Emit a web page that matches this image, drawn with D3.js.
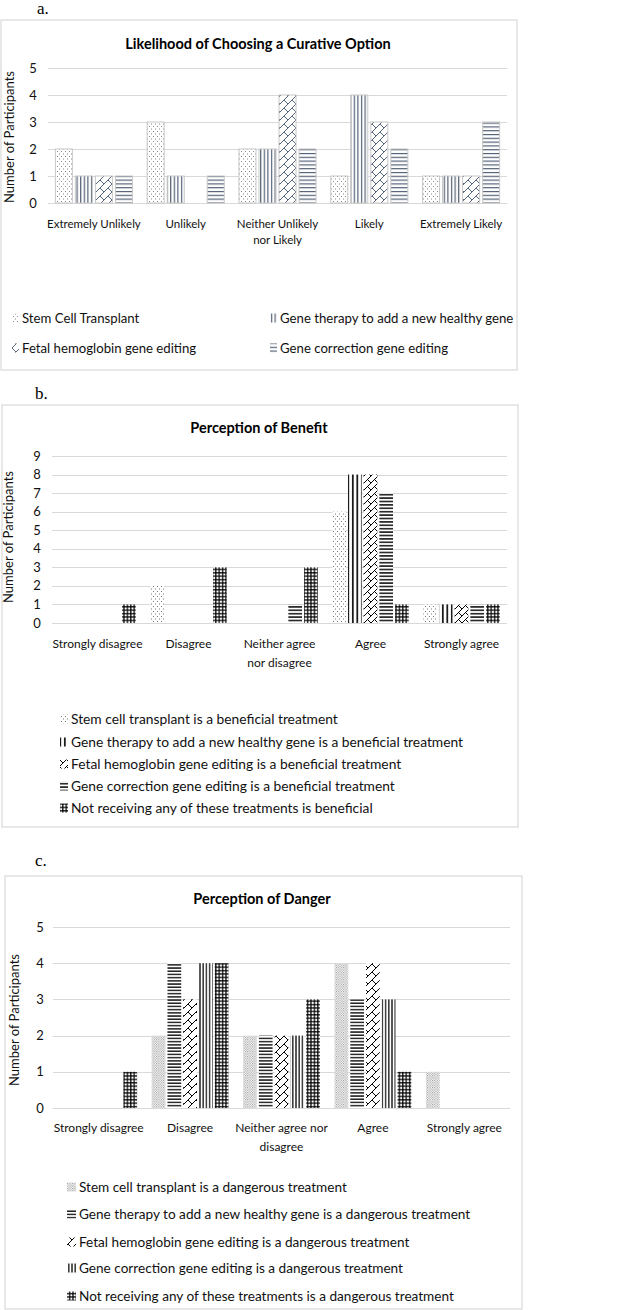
<!DOCTYPE html>
<html><head><meta charset="utf-8">
<script src="https://cdn.jsdelivr.net/npm/d3@7"></script>
<style>
html,body{margin:0;padding:0;background:#fff;}
svg{display:block;}
</style></head>
<body>
<svg id="chart" width="620" height="1310"></svg>
<script>
// ---------- Panel a data ----------
const catsA = ["Extremely Unlikely","Unlikely","Neither Unlikely nor Likely","Likely","Extremely Likely"];
const tickLinesA = [["Extremely Unlikely"],["Unlikely"],["Neither Unlikely","nor Likely"],["Likely"],["Extremely Likely"]];
const seriesNamesA = ["Stem Cell Transplant","Gene therapy to add a new healthy gene","Fetal hemoglobin gene editing","Gene correction gene editing"];
const stemA   = [2,3,2,1,1];
const geneThA = [1,1,2,4,1];
const fetalA  = [1,0,4,3,1];
const corrA   = [1,1,2,2,3];
const yTicksA = [0,1,2,3,4,5];

// ---------- Panel b data ----------
const catsB = ["Strongly disagree","Disagree","Neither agree nor disagree","Agree","Strongly agree"];
const tickLinesB = [["Strongly disagree"],["Disagree"],["Neither agree","nor disagree"],["Agree"],["Strongly agree"]];
const seriesNamesB = ["Stem cell transplant is a beneficial treatment","Gene therapy to add a new healthy gene is a beneficial treatment","Fetal hemoglobin gene editing is a beneficial treatment","Gene correction gene editing is a beneficial treatment","Not receiving any of these treatments is beneficial"];
const stemB   = [0,2,0,6,1];
const geneThB = [0,0,0,8,1];
const fetalB  = [0,0,0,8,1];
const corrB   = [0,0,1,7,1];
const noneB   = [1,3,3,1,1];
const yTicksB = [0,1,2,3,4,5,6,7,8,9];

// ---------- Panel c data ----------
const catsC = ["Strongly disagree","Disagree","Neither agree nor disagree","Agree","Strongly agree"];
const tickLinesC = [["Strongly disagree"],["Disagree"],["Neither agree nor","disagree"],["Agree"],["Strongly agree"]];
const seriesNamesC = ["Stem cell transplant is a dangerous treatment","Gene therapy to add a new healthy gene is a dangerous treatment","Fetal hemoglobin gene editing is a dangerous treatment","Gene correction gene editing is a dangerous treatment","Not receiving any of these treatments is a dangerous treatment"];
const stemC   = [0,2,2,4,1];
const geneThC = [0,4,2,3,0];
const fetalC  = [0,3,2,4,0];
const corrC   = [0,4,2,3,0];
const noneC   = [1,4,3,1,0];
const yTicksC = [0,1,2,3,4,5];

const FONT = "Lato, 'Open Sans', sans-serif";
const svg = d3.select("#chart");
const defs = svg.append("defs");

// ---------- patterns ----------
function pat(id, w, h, draw){
  const p = defs.append("pattern").attr("id", id).attr("patternUnits","userSpaceOnUse")
    .attr("width", w).attr("height", h);
  p.append("rect").attr("width", w).attr("height", h).attr("fill", "#fff");
  draw(p);
}
// panel a (slate)
const SL = "#44546a";
pat("a-dots", 4, 5, p => { p.append("rect").attr("x",1).attr("y",1).attr("width",1).attr("height",1).attr("fill","#8a8a8a");
                           p.append("rect").attr("x",3).attr("y",3.5).attr("width",1).attr("height",1).attr("fill","#8a8a8a"); });
pat("a-vl", 3.6, 4, p => p.append("rect").attr("x",1).attr("width",1.1).attr("height",4).attr("fill",SL));
pat("a-brick", 8, 8, p => p.append("path").attr("d","M0,8 L8,0 M4,4 L8,8 M-1,1 L1,-1 M7,9 L9,7").attr("stroke",SL).attr("stroke-width",0.9).attr("fill","none"));
pat("a-hl", 4, 3.8, p => p.append("rect").attr("y",1).attr("width",4).attr("height",1.1).attr("fill",SL));
// panel b (black)
pat("b-dots", 4, 5, p => { p.append("rect").attr("x",1).attr("y",1).attr("width",1).attr("height",1).attr("fill","#777");
                           p.append("rect").attr("x",3).attr("y",3.5).attr("width",1).attr("height",1).attr("fill","#777"); });
pat("b-vl", 4.5, 4, p => p.append("rect").attr("x",1).attr("width",1.6).attr("height",4).attr("fill","#000"));
pat("b-brick", 7, 7, p => p.append("path").attr("d","M0,7 L7,0 M3.5,3.5 L7,7 M-1,1 L1,-1 M6,8 L8,6").attr("stroke","#000").attr("stroke-width",1).attr("fill","none"));
pat("b-hl", 4, 3.4, p => p.append("rect").attr("y",1).attr("width",4).attr("height",1.4).attr("fill","#000"));
pat("b-grid", 3.4, 3.4, p => { p.append("rect").attr("x",1).attr("width",1.2).attr("height",3.4).attr("fill","#000");
                               p.append("rect").attr("y",1).attr("width",3.4).attr("height",1.2).attr("fill","#000"); });
// panel c (black)
pat("c-dots", 2.4, 2.4, p => { p.append("rect").attr("x",0).attr("y",0).attr("width",1).attr("height",1).attr("fill","#8c8c8c");
                               p.append("rect").attr("x",1.2).attr("y",1.2).attr("width",1).attr("height",1).attr("fill","#8c8c8c"); });
pat("c-hl", 4, 3.2, p => p.append("rect").attr("y",1).attr("width",4).attr("height",1.3).attr("fill","#000"));
pat("c-brick", 8, 8, p => p.append("path").attr("d","M0,8 L8,0 M4,4 L8,8 M-1,1 L1,-1 M7,9 L9,7").attr("stroke","#000").attr("stroke-width",1).attr("fill","none"));
pat("c-vl", 3.2, 4, p => p.append("rect").attr("x",1).attr("width",1.2).attr("height",4).attr("fill","#000"));
pat("c-grid", 3.4, 3.4, p => { p.append("rect").attr("x",1).attr("width",1.2).attr("height",3.4).attr("fill","#000");
                               p.append("rect").attr("y",1).attr("width",3.4).attr("height",1.2).attr("fill","#000"); });

// ---------- panel drawer ----------
function drawPanel(cfg){
  const g = svg.append("g");
  g.append("rect").attr("x",cfg.box[0]).attr("y",cfg.box[1]).attr("width",cfg.box[2]).attr("height",cfg.box[3])
    .attr("fill","#fff").attr("stroke","#d9d9d9").attr("stroke-width",1.2);
  g.append("text").attr("x",cfg.letter[1]).attr("y",cfg.letter[2]).text(cfg.letter[0])
    .attr("font-family","'Liberation Serif', 'Times New Roman', serif").attr("font-size",17).attr("fill","#000");
  g.append("text").attr("x",cfg.title[1]).attr("y",cfg.title[2]).attr("text-anchor","middle").text(cfg.title[0])
    .attr("font-family",FONT).attr("font-weight","bold").attr("font-size",cfg.titleSize).attr("fill","#000");

  const y = d3.scaleLinear().domain([0, d3.max(cfg.yTicks)]).range([cfg.plot.y0, cfg.plot.y1]);
  const x0 = d3.scaleBand().domain(cfg.cats).range([cfg.plot.x0, cfg.plot.x1]).paddingInner(cfg.groupPad).paddingOuter(cfg.groupPad/2);
  const x1 = d3.scaleBand().domain(d3.range(cfg.series.length)).range([0, x0.bandwidth()]).paddingInner(cfg.barPad);

  g.append("g").selectAll("line").data(cfg.yTicks).join("line")
    .attr("x1",cfg.plot.x0).attr("x2",cfg.plot.x1)
    .attr("y1",d=>Math.round(y(d))+0.5).attr("y2",d=>Math.round(y(d))+0.5)
    .attr("stroke","#d9d9d9").attr("stroke-width",1);
  g.append("g").selectAll("text").data(cfg.yTicks).join("text")
    .attr("x",cfg.tickX).attr("y",d=>y(d)+4.5).attr("text-anchor","middle").text(d=>d)
    .attr("font-family",FONT).attr("font-size",cfg.tickSize).attr("fill","#111");
  g.append("text").attr("transform",`translate(${cfg.ylab[0]},${cfg.ylab[1]}) rotate(-90)`).attr("text-anchor","middle")
    .text("Number of Participants").attr("font-family",FONT).attr("font-size",cfg.ylabSize).attr("fill","#111");

  cfg.series.forEach((s, si) => {
    g.append("g").selectAll("rect").data(s.values.map((v,i)=>({v, c: cfg.cats[i]}))).join("rect")
      .filter(d => d.v > 0)
      .attr("x", d => x0(d.c) + x1(si))
      .attr("width", x1.bandwidth())
      .attr("y", d => y(d.v))
      .attr("height", d => y(0) - y(d.v))
      .attr("fill", `url(#${s.pattern})`)
      .attr("stroke", cfg.barStroke).attr("stroke-width", cfg.barStroke === "none" ? 0 : 1);
  });

  const xl = g.append("g").selectAll("text").data(cfg.cats).join("text")
    .attr("x", d => x0(d) + x0.bandwidth()/2).attr("y", cfg.xLabY).attr("text-anchor","middle")
    .attr("font-family",FONT).attr("font-size",cfg.xTickSize).attr("fill","#111");
  xl.each(function(d,i){
    const t = d3.select(this);
    cfg.tickLines[i].forEach((ln, k) => {
      t.append("tspan").attr("x", x0(d) + x0.bandwidth()/2).attr("dy", k === 0 ? 0 : cfg.xLabLH).text(ln);
    });
  });

  cfg.series.forEach((s, si) => {
    const pos = cfg.legendPos[si];
    g.append("rect").attr("x", pos[0] - cfg.legMark[0] - 3).attr("y", pos[1] - cfg.legMark[1] - 0.5)
      .attr("width", cfg.legMark[0]).attr("height", cfg.legMark[1]).attr("fill", `url(#${s.pattern})`);
    g.append("text").attr("x", pos[0]).attr("y", pos[1]).text(s.name)
      .attr("font-family",FONT).attr("font-size",cfg.legSize).attr("fill","#111");
  });
}

drawPanel({
  box:[1,20,516,350], letter:["a.",37,14], title:["Likelihood of Choosing a Curative Option",258,49], titleSize:14.5,
  plot:{x0:48,x1:507,y0:203,y1:68}, yTicks:yTicksA, tickX:33, tickSize:13,
  ylab:[14,137], ylabSize:13, cats:catsA, tickLines:tickLinesA, xLabY:228, xLabLH:16, xTickSize:11.5,
  groupPad:0.16, barPad:0.15, barStroke:"#c8c8c8",
  series:[
    {name:seriesNamesA[0], values:stemA,   pattern:"a-dots"},
    {name:seriesNamesA[1], values:geneThA, pattern:"a-vl"},
    {name:seriesNamesA[2], values:fetalA,  pattern:"a-brick"},
    {name:seriesNamesA[3], values:corrA,   pattern:"a-hl"}
  ],
  legendPos:[[22,323],[280,323],[22,353],[280,353]], legMark:[7,9], legSize:13.2
});

drawPanel({
  box:[2,405,516,422], letter:["b.",35,399], title:["Perception of Benefit",259,433], titleSize:14.5,
  plot:{x0:52,x1:507,y0:623,y1:456}, yTicks:yTicksB, tickX:37, tickSize:13,
  ylab:[13,537], ylabSize:13, cats:catsB, tickLines:tickLinesB, xLabY:648, xLabLH:18.5, xTickSize:12,
  groupPad:0.16, barPad:0.13, barStroke:"none",
  series:[
    {name:seriesNamesB[0], values:stemB,   pattern:"b-dots"},
    {name:seriesNamesB[1], values:geneThB, pattern:"b-vl"},
    {name:seriesNamesB[2], values:fetalB,  pattern:"b-brick"},
    {name:seriesNamesB[3], values:corrB,   pattern:"b-hl"},
    {name:seriesNamesB[4], values:noneB,   pattern:"b-grid"}
  ],
  legendPos:[[71,724],[71,747],[71,769],[71,791],[71,813]], legMark:[8,9], legSize:13.8
});

drawPanel({
  box:[5,876,517,433], letter:["c.",35,866], title:["Perception of Danger",262,904], titleSize:14.5,
  plot:{x0:53,x1:510,y0:1108,y1:927}, yTicks:yTicksC, tickX:40, tickSize:13,
  ylab:[19,1020], ylabSize:13, cats:catsC, tickLines:tickLinesC, xLabY:1132, xLabLH:18.5, xTickSize:12,
  groupPad:0.16, barPad:0.13, barStroke:"none",
  series:[
    {name:seriesNamesC[0], values:stemC,   pattern:"c-dots"},
    {name:seriesNamesC[1], values:geneThC, pattern:"c-hl"},
    {name:seriesNamesC[2], values:fetalC,  pattern:"c-brick"},
    {name:seriesNamesC[3], values:corrC,   pattern:"c-vl"},
    {name:seriesNamesC[4], values:noneC,   pattern:"c-grid"}
  ],
  legendPos:[[79,1192],[79,1219],[79,1247],[79,1273],[79,1301]], legMark:[9,9], legSize:13.6
});
</script>
</body></html>
